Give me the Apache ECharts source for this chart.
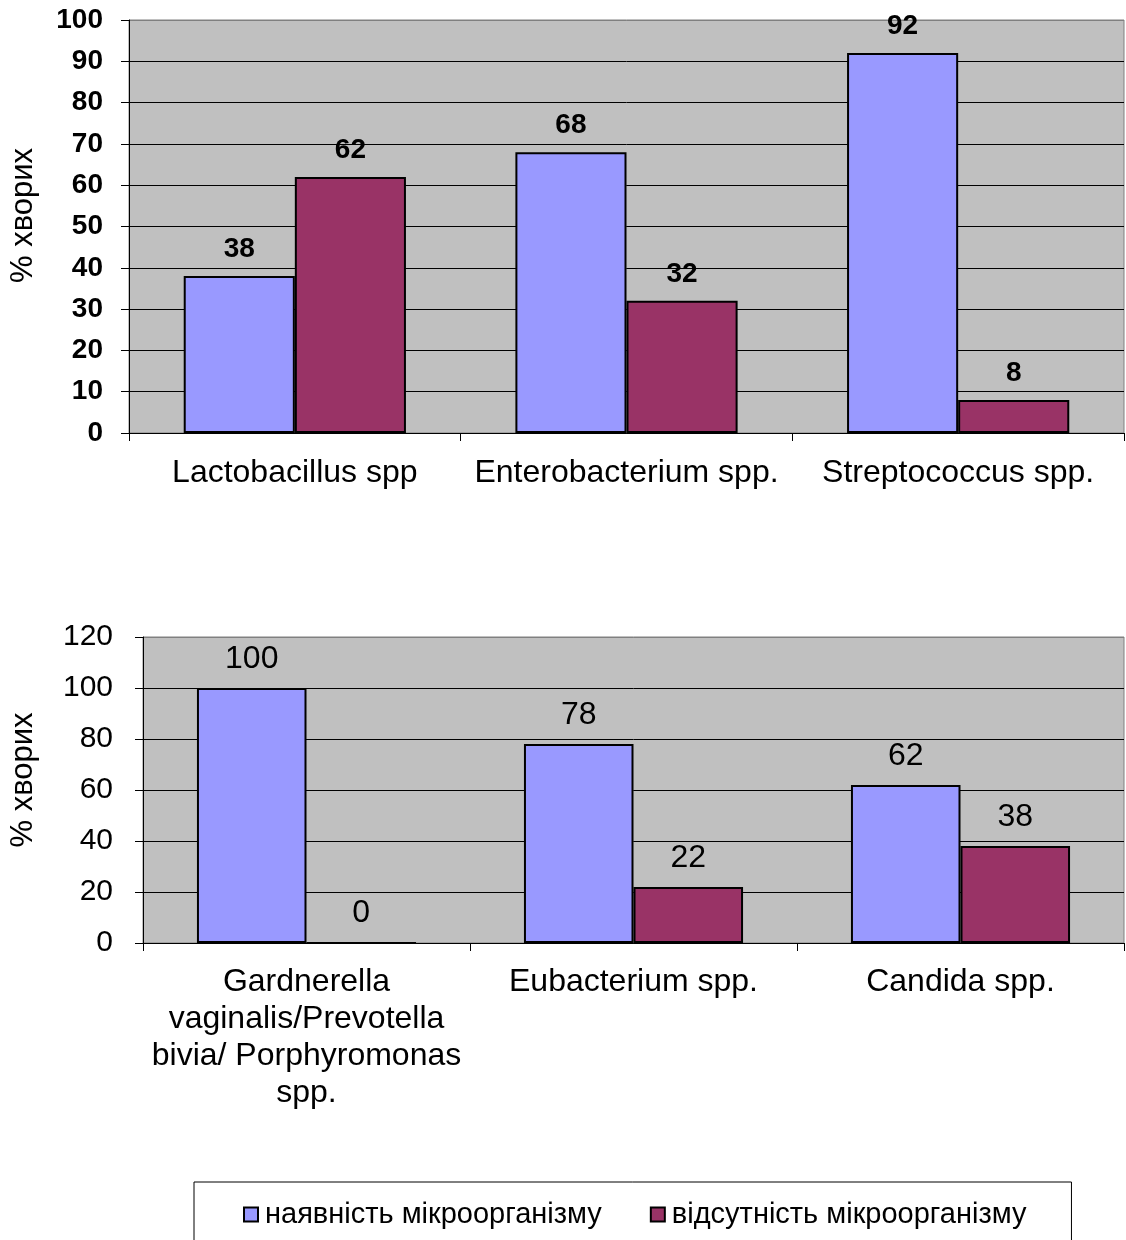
<!DOCTYPE html>
<html>
<head>
<meta charset="utf-8">
<script src="https://cdn.jsdelivr.net/npm/echarts@6/dist/echarts.min.js"></script>
<style>html,body{margin:0;padding:0;background:#fff;}#c{width:1126px;height:1240px;}</style>
</head>
<body>
<div id="c"></div>
<script>
const seriesNames = ['наявність мікроорганізму', 'відсутність мікроорганізму'];
const topCategories = ['Lactobacillus spp', 'Enterobacterium spp.', 'Streptococcus spp.'];
const topPresent = [38, 68, 92];
const topAbsent = [62, 32, 8];
const bottomCategories = ['Gardnerella\nvaginalis/Prevotella\nbivia/ Porphyromonas\nspp.', 'Eubacterium spp.', 'Candida spp.'];
const bottomPresent = [100, 78, 62];
const bottomAbsent = [0, 22, 38];
const yAxisName = '% хворих';

const FONT = '"Liberation Sans", Arial, sans-serif';
const colors = ['#9999FF', '#993366'];

function barSeries(name, data, idx, color, labelFont, bold) {
  return {
    name: name, type: 'bar', data: data,
    xAxisIndex: idx, yAxisIndex: idx,
    barGap: '0%', barCategoryGap: '33%',
    itemStyle: { color: color, borderColor: '#000', borderWidth: 2 },
    label: { show: true, position: 'top', distance: 13, color: '#000',
      fontFamily: FONT, fontSize: labelFont, fontWeight: bold ? 'bold' : 'normal' },
    emphasis: { disabled: true }, animation: false
  };
}

function gridLineColors(n) {
  const arr = [];
  for (let i = 0; i < n; i++) arr.push('#000');
  arr.push('#808080');
  return arr;
}

const chart = echarts.init(document.getElementById('c'), null, { renderer: 'canvas' });
chart.setOption({
  backgroundColor: '#fff',
  animation: false,
  grid: [
    { left: 129, top: 20, width: 995, height: 413, show: true, backgroundColor: '#C0C0C0', borderColor: '#808080', borderWidth: 1 },
    { left: 143, top: 637, width: 981, height: 306, show: true, backgroundColor: '#C0C0C0', borderColor: '#808080', borderWidth: 1 }
  ],
  legend: {
    data: seriesNames,
    left: 194, top: 1182,
    padding: [18, 45, 40, 49],
    itemGap: 48,
    itemWidth: 14, itemHeight: 14,
    icon: 'rect',
    borderColor: '#000', borderWidth: 1,
    textStyle: { fontFamily: FONT, fontSize: 29, color: '#000', padding: [0, 0, 0, 2] },
    itemStyle: { borderColor: '#000', borderWidth: 2 },
    selectedMode: false
  },
  xAxis: [
    { type: 'category', gridIndex: 0, data: topCategories,
      axisLine: { lineStyle: { color: '#000', width: 1 } },
      axisTick: { show: true, length: 8, lineStyle: { color: '#000' } },
      axisLabel: { color: '#000', fontFamily: FONT, fontSize: 32, margin: 24, interval: 0 } },
    { type: 'category', gridIndex: 1, data: bottomCategories,
      axisLine: { lineStyle: { color: '#000', width: 1 } },
      axisTick: { show: true, length: 8, lineStyle: { color: '#000' } },
      axisLabel: { color: '#000', fontFamily: FONT, fontSize: 32, margin: 21, lineHeight: 37, interval: 0 } }
  ],
  yAxis: [
    { type: 'value', gridIndex: 0, min: 0, max: 100, interval: 10,
      name: yAxisName, nameLocation: 'middle', nameGap: 90, nameRotate: 90,
      nameTextStyle: { color: '#000', fontFamily: FONT, fontSize: 31, padding: [0, 0, 0, 22] },
      axisLine: { show: true, lineStyle: { color: '#000' } },
      axisTick: { show: true, length: 8, lineStyle: { color: '#000' } },
      splitLine: { lineStyle: { color: gridLineColors(10), width: 1 } },
      axisLabel: { color: '#000', fontFamily: FONT, fontSize: 28, fontWeight: 'bold', margin: 26 } },
    { type: 'value', gridIndex: 1, min: 0, max: 120, interval: 20,
      name: yAxisName, nameLocation: 'middle', nameGap: 104, nameRotate: 90,
      nameTextStyle: { color: '#000', fontFamily: FONT, fontSize: 31, padding: [0, 0, 0, 20] },
      axisLine: { show: true, lineStyle: { color: '#000' } },
      axisTick: { show: true, length: 8, lineStyle: { color: '#000' } },
      splitLine: { lineStyle: { color: gridLineColors(6), width: 1 } },
      axisLabel: { color: '#000', fontFamily: FONT, fontSize: 30, margin: 30 } }
  ],
  series: [
    barSeries(seriesNames[0], topPresent, 0, colors[0], 28, true),
    barSeries(seriesNames[1], topAbsent, 0, colors[1], 28, true),
    barSeries(seriesNames[0], bottomPresent, 1, colors[0], 32, false),
    barSeries(seriesNames[1], bottomAbsent, 1, colors[1], 32, false)
  ]
});
</script>
</body>
</html>
